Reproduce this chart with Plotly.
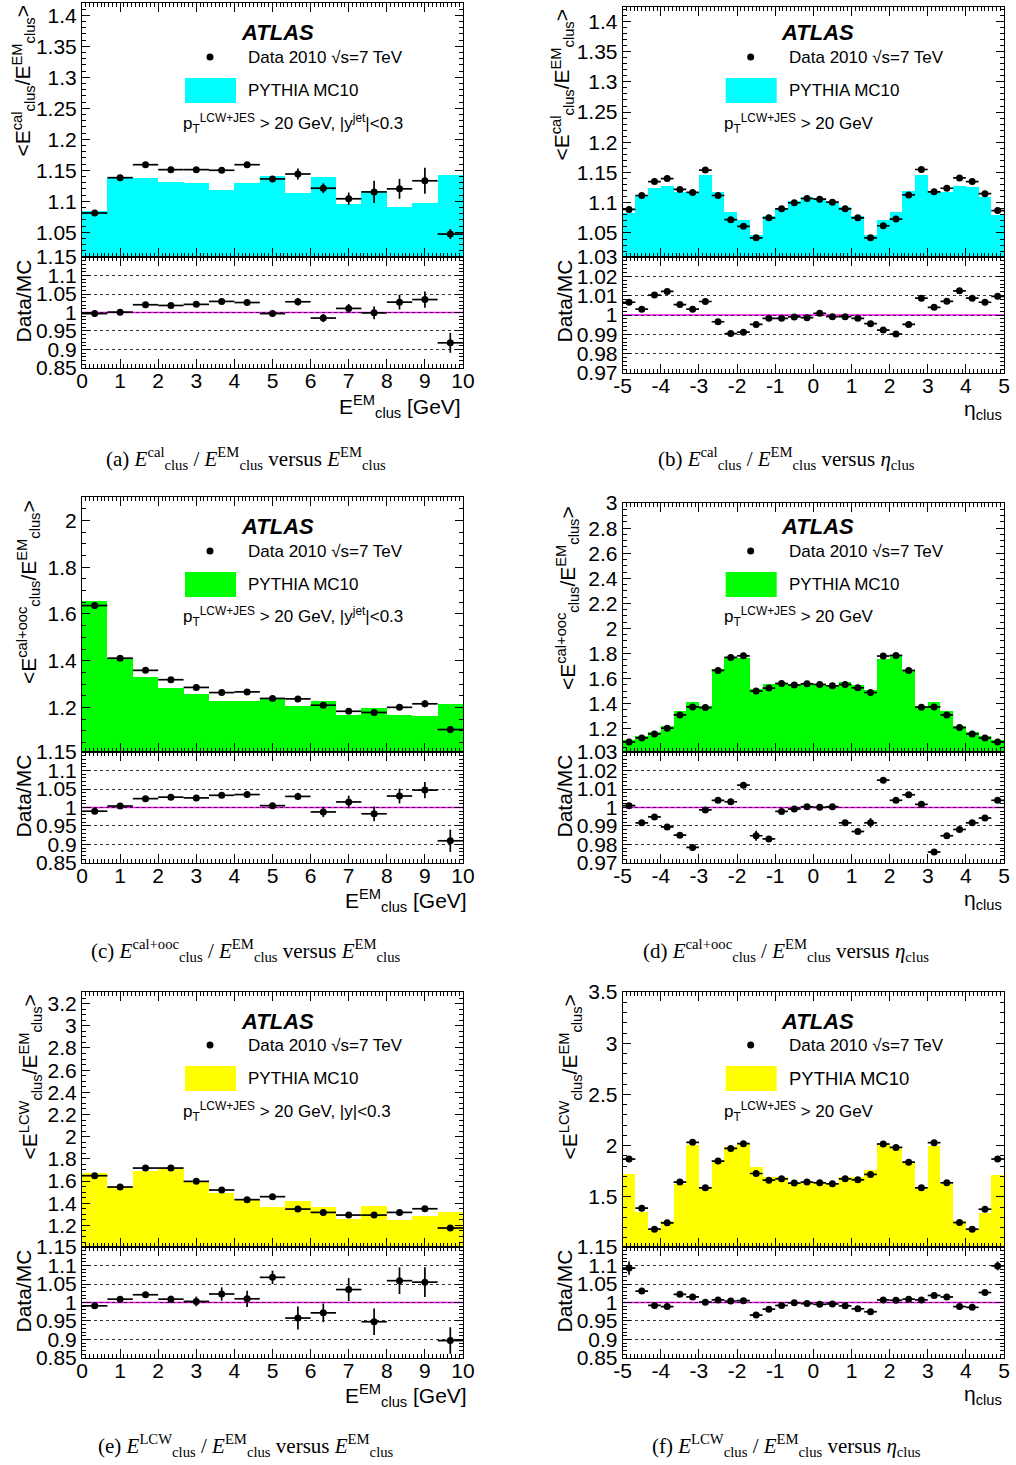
import numpy as np
import plotly.graph_objects as go

W, H = 1016, 1465

# ---------------- binning ----------------
E_EDGES = np.linspace(0.0, 10.0, 16)      # 15 bins in E_clus^EM [GeV]
ETA_EDGES = np.linspace(-5.0, 5.0, 31)    # 30 bins in eta_clus

# ---------------- (a) E^cal/E^EM vs E^EM ----------------
a_mc = [1.084, 1.138, 1.138, 1.131, 1.130, 1.118, 1.130, 1.141, 1.114, 1.139, 1.095, 1.117, 1.090, 1.097, 1.142]
a_data = [1.081, 1.138, 1.159, 1.151, 1.151, 1.150, 1.159, 1.136, 1.144, 1.121, 1.104, 1.115, 1.120, 1.133, 1.047]
a_data_err = [0.002, 0.002, 0.002, 0.002, 0.002, 0.002, 0.003, 0.004, 0.009, 0.008, 0.010, 0.018, 0.016, 0.021, 0.008]
a_ratio = [0.997, 1.001, 1.021, 1.019, 1.022, 1.030, 1.027, 0.997, 1.029, 0.985, 1.011, 0.999, 1.028, 1.035, 0.918]
a_ratio_err = [0.002, 0.002, 0.002, 0.002, 0.002, 0.003, 0.003, 0.005, 0.010, 0.011, 0.012, 0.017, 0.020, 0.022, 0.027]

# ---------------- (b) E^cal/E^EM vs eta ----------------
b_mc = [1.083, 1.111, 1.125, 1.128, 1.118, 1.117, 1.146, 1.117, 1.084, 1.071, 1.047, 1.078, 1.092, 1.103, 1.110,
        1.108, 1.102, 1.093, 1.078, 1.047, 1.071, 1.085, 1.119, 1.146, 1.120, 1.117, 1.128, 1.126, 1.109, 1.079]
b_data = [1.089, 1.112, 1.135, 1.140, 1.122, 1.117, 1.154, 1.112, 1.072, 1.061, 1.042, 1.075, 1.090, 1.100, 1.107,
          1.106, 1.101, 1.090, 1.075, 1.042, 1.062, 1.073, 1.113, 1.155, 1.118, 1.124, 1.141, 1.135, 1.115, 1.087]
b_data_err = [0.001] * 30
b_ratio = [1.0066, 1.0030, 1.0103, 1.0122, 1.0054, 1.0030, 1.0070, 0.9965, 0.9904, 0.9911, 0.9951, 0.9983, 0.9983, 0.9990, 0.9986,
           1.0009, 0.9991, 0.9991, 0.9983, 0.9955, 0.9922, 0.9901, 0.9951, 1.0087, 1.0040, 1.0071, 1.0125, 1.0087, 1.0066, 1.0097]
b_ratio_err = [0.0004] * 30

# ---------------- (c) E^cal+ooc/E^EM vs E^EM ----------------
c_mc = [1.656, 1.410, 1.330, 1.284, 1.257, 1.229, 1.229, 1.239, 1.206, 1.227, 1.170, 1.200, 1.170, 1.164, 1.217]
c_data = [1.636, 1.411, 1.359, 1.319, 1.286, 1.264, 1.267, 1.239, 1.237, 1.210, 1.184, 1.179, 1.201, 1.216, 1.106]
c_data_err = [0.003, 0.003, 0.003, 0.003, 0.003, 0.003, 0.003, 0.004, 0.005, 0.006, 0.007, 0.012, 0.008, 0.015, 0.008]
c_ratio = [0.990, 1.004, 1.024, 1.028, 1.026, 1.033, 1.035, 1.005, 1.030, 0.988, 1.015, 0.983, 1.031, 1.047, 0.910]
c_ratio_err = [0.003, 0.003, 0.003, 0.003, 0.003, 0.003, 0.003, 0.005, 0.010, 0.014, 0.017, 0.020, 0.020, 0.022, 0.030]

# ---------------- (d) E^cal+ooc/E^EM vs eta ----------------
d_mc = [1.112, 1.139, 1.171, 1.224, 1.341, 1.411, 1.379, 1.672, 1.768, 1.765, 1.517, 1.555, 1.565, 1.557, 1.560,
        1.557, 1.549, 1.571, 1.549, 1.507, 1.757, 1.784, 1.659, 1.379, 1.411, 1.341, 1.221, 1.176, 1.141, 1.112]
d_data = [1.093, 1.125, 1.157, 1.203, 1.309, 1.373, 1.368, 1.664, 1.768, 1.781, 1.499, 1.523, 1.560, 1.547, 1.557,
          1.552, 1.541, 1.552, 1.525, 1.488, 1.779, 1.784, 1.664, 1.371, 1.373, 1.309, 1.208, 1.157, 1.125, 1.093]
d_data_err = [0.002] * 30
d_ratio = [1.0010, 0.9917, 0.9949, 0.9895, 0.9850, 0.9784, 0.9987, 1.0039, 1.0031, 1.0121, 0.9847, 0.9830, 0.9979, 0.9992, 1.0004,
           1.0001, 1.0004, 0.9917, 0.9870, 0.9917, 1.0148, 1.0039, 1.0069, 1.0017, 0.9759, 0.9847, 0.9881, 0.9917, 0.9943, 1.0039]
d_ratio_err = [0.0004, 0.0004, 0.0004, 0.0004, 0.0004, 0.0004, 0.0004, 0.0004, 0.0004, 0.0004, 0.0027, 0.0004, 0.0004, 0.0004, 0.0004,
               0.0004, 0.0004, 0.0004, 0.0004, 0.0025, 0.0004, 0.0004, 0.0004, 0.0004, 0.0004, 0.0004, 0.0004, 0.0004, 0.0004, 0.0004]

# ---------------- (e) E^LCW/E^EM vs E^EM ----------------
e_mc = [1.669, 1.546, 1.690, 1.711, 1.591, 1.495, 1.432, 1.368, 1.417, 1.362, 1.257, 1.371, 1.248, 1.284, 1.317]
e_data = [1.648, 1.546, 1.717, 1.717, 1.597, 1.519, 1.432, 1.459, 1.347, 1.317, 1.293, 1.293, 1.317, 1.350, 1.176]
e_data_err = [0.004, 0.004, 0.004, 0.004, 0.005, 0.006, 0.006, 0.007, 0.008, 0.009, 0.010, 0.012, 0.014, 0.015, 0.012]
e_ratio = [0.991, 1.009, 1.021, 1.009, 1.003, 1.023, 1.010, 1.068, 0.958, 0.972, 1.035, 0.948, 1.059, 1.055, 0.897]
e_ratio_err = [0.003, 0.003, 0.004, 0.009, 0.013, 0.018, 0.022, 0.018, 0.031, 0.025, 0.031, 0.036, 0.036, 0.040, 0.036]

# ---------------- (f) E^LCW/E^EM vs eta ----------------
f_mc = [1.719, 1.353, 1.190, 1.265, 1.621, 2.006, 1.595, 1.843, 1.986, 2.019, 1.787, 1.696, 1.689, 1.634, 1.647,
        1.647, 1.640, 1.693, 1.696, 1.761, 2.012, 1.980, 1.836, 1.588, 1.996, 1.621, 1.265, 1.190, 1.347, 1.712]
f_data = [1.869, 1.389, 1.184, 1.246, 1.644, 2.032, 1.588, 1.849, 1.973, 2.019, 1.728, 1.663, 1.676, 1.634, 1.644,
          1.637, 1.627, 1.676, 1.666, 1.719, 2.016, 1.983, 1.839, 1.588, 2.029, 1.637, 1.249, 1.184, 1.379, 1.869]
f_data_err = [0.004] * 30
f_ratio = [1.093, 1.031, 0.992, 0.989, 1.022, 1.015, 1.001, 1.007, 1.004, 1.005, 0.966, 0.982, 0.992, 0.999, 0.997,
           0.995, 0.996, 0.991, 0.983, 0.975, 1.007, 1.006, 1.009, 1.007, 1.019, 1.015, 0.989, 0.987, 1.027, 1.099]
f_ratio_err = [0.018, 0.003, 0.003, 0.003, 0.003, 0.003, 0.003, 0.003, 0.003, 0.003, 0.003, 0.003, 0.003, 0.003, 0.003,
               0.003, 0.003, 0.003, 0.003, 0.003, 0.003, 0.003, 0.003, 0.003, 0.003, 0.003, 0.003, 0.003, 0.003, 0.012]

# ---------------- text ----------------
Y_TITLE_CAL = "&lt;E<sup>cal</sup><sub>clus</sub>/E<sup>EM</sup><sub>clus</sub>&gt;"
Y_TITLE_OOC = "&lt;E<sup>cal+ooc</sup><sub>clus</sub>/E<sup>EM</sup><sub>clus</sub>&gt;"
Y_TITLE_LCW = "&lt;E<sup>LCW</sup><sub>clus</sub>/E<sup>EM</sup><sub>clus</sub>&gt;"
CUT_E = "p<sub>T</sub><sup>LCW+JES</sup> &gt; 20 GeV, |y<sup>jet</sup>|&lt;0.3"
CUT_E2 = "p<sub>T</sub><sup>LCW+JES</sup> &gt; 20 GeV, |y|&lt;0.3"
CUT_ETA = "p<sub>T</sub><sup>LCW+JES</sup> &gt; 20 GeV"
X_TITLE_E = "E<sup>EM</sup><sub>clus</sub> [GeV]"
X_TITLE_ETA = "η<sub>clus</sub>"
CAPTIONS = [
    "(a) <i>E</i><sup>cal</sup><sub>clus</sub> / <i>E</i><sup>EM</sup><sub>clus</sub> versus <i>E</i><sup>EM</sup><sub>clus</sub>",
    "(b) <i>E</i><sup>cal</sup><sub>clus</sub> / <i>E</i><sup>EM</sup><sub>clus</sub> versus <i>η</i><sub>clus</sub>",
    "(c) <i>E</i><sup>cal+ooc</sup><sub>clus</sub> / <i>E</i><sup>EM</sup><sub>clus</sub> versus <i>E</i><sup>EM</sup><sub>clus</sub>",
    "(d) <i>E</i><sup>cal+ooc</sup><sub>clus</sub> / <i>E</i><sup>EM</sup><sub>clus</sub> versus <i>η</i><sub>clus</sub>",
    "(e) <i>E</i><sup>LCW</sup><sub>clus</sub> / <i>E</i><sup>EM</sup><sub>clus</sub> versus <i>E</i><sup>EM</sup><sub>clus</sub>",
    "(f) <i>E</i><sup>LCW</sup><sub>clus</sub> / <i>E</i><sup>EM</sup><sub>clus</sub> versus <i>η</i><sub>clus</sub>",
]

SANS = "Liberation Sans, Arial, Helvetica, sans-serif"
SERIF = "Liberation Serif, Times New Roman, serif"

# ---------------- panel layout (pixels) ----------------
COLS = [(82.0, 463.0), (622.7, 1004.0)]
panels = [
    dict(col=0, row=0, top=3, mid=257, bot=368, edges=E_EDGES, mc=a_mc, data=a_data, derr=a_data_err,
         ratio=a_ratio, rerr=a_ratio_err, color="#00FFFF", yr=[1.01, 1.42], ydt=0.05, ymn=0.01,
         rr=[0.8499, 1.1501], rdt=0.05, rmn=0.01, ytitle=Y_TITLE_CAL, cut=CUT_E, xt=X_TITLE_E, xt_x=463, xt_y=406, yt_x=23, pfs=17),
    dict(col=1, row=0, top=7, mid=257, bot=373, edges=ETA_EDGES, mc=b_mc, data=b_data, derr=b_data_err,
         ratio=b_ratio, rerr=b_ratio_err, color="#00FFFF", yr=[1.0103, 1.4237], ydt=0.05, ymn=0.01,
         rr=[0.96995, 1.03005], rdt=0.01, rmn=0.002, ytitle=Y_TITLE_CAL, cut=CUT_ETA, xt=X_TITLE_ETA, xt_x=1004, xt_y=410, yt_x=562, pfs=17),
    dict(col=0, row=1, top=497, mid=752, bot=863, edges=E_EDGES, mc=c_mc, data=c_data, derr=c_data_err,
         ratio=c_ratio, rerr=c_ratio_err, color="#00FF00", yr=[1.01, 2.1], ydt=0.2, ymn=0.05,
         rr=[0.8499, 1.1501], rdt=0.05, rmn=0.01, ytitle=Y_TITLE_OOC, cut=CUT_E, xt=X_TITLE_E, xt_x=469, xt_y=900, yt_x=28, pfs=17),
    dict(col=1, row=1, top=503, mid=752, bot=863, edges=ETA_EDGES, mc=d_mc, data=d_data, derr=d_data_err,
         ratio=d_ratio, rerr=d_ratio_err, color="#00FF00", yr=[1.013, 3.0008], ydt=0.2, ymn=0.05,
         rr=[0.96995, 1.03005], rdt=0.01, rmn=0.002, ytitle=Y_TITLE_OOC, cut=CUT_ETA, xt=X_TITLE_ETA, xt_x=1004, xt_y=900, yt_x=567, pfs=17),
    dict(col=0, row=2, top=992, mid=1247, bot=1358, edges=E_EDGES, mc=e_mc, data=e_data, derr=e_data_err,
         ratio=e_ratio, rerr=e_ratio_err, color="#FFFF00", yr=[1.005, 3.305], ydt=0.2, ymn=0.05,
         rr=[0.8499, 1.1501], rdt=0.05, rmn=0.01, ytitle=Y_TITLE_LCW, cut=CUT_E2, xt=X_TITLE_E, xt_x=469, xt_y=1395, yt_x=30, pfs=17),
    dict(col=1, row=2, top=992, mid=1247, bot=1358, edges=ETA_EDGES, mc=f_mc, data=f_data, derr=f_data_err,
         ratio=f_ratio, rerr=f_ratio_err, color="#FFFF00", yr=[1.01, 3.5008], ydt=0.5, ymn=0.1,
         rr=[0.8499, 1.1501], rdt=0.05, rmn=0.01, ytitle=Y_TITLE_LCW, cut=CUT_ETA, xt=X_TITLE_ETA, xt_x=1004, xt_y=1395, yt_x=570, pfs=18.5),
]
ROW_DY = [0, 494, 988]
CAPTION_Y = [458, 950, 1445]
CAPTION_X = [246, 786]
RATIO_TITLE_X = [23, 564]


def pxx(p):
    return p / W


def pxy(p):
    return 1.0 - p / H


fig = go.Figure()
layout = dict(
    width=W, height=H, autosize=False,
    margin=dict(l=0, r=0, t=0, b=0, pad=0, autoexpand=False),
    paper_bgcolor="white", plot_bgcolor="white", showlegend=False,
    font=dict(family=SANS, size=21, color="black"),
)
annotations = []
shapes = []

TICKFONT = dict(family=SANS, size=21, color="black")


def ax_name(n, kind):
    return kind + "axis" if n == 1 else f"{kind}axis{n}"


def ax_ref(n, kind):
    return kind if n == 1 else f"{kind}{n}"


for i, p in enumerate(panels):
    nm, nr = 2 * i + 1, 2 * i + 2
    edges = p["edges"]
    centers = 0.5 * (edges[:-1] + edges[1:])
    bw = float(edges[1] - edges[0])
    left, right = COLS[p["col"]]
    xdom = [pxx(left), pxx(right)]
    xr = [float(edges[0]), float(edges[-1])]

    tv = np.arange(edges[0], edges[-1] + 0.5, 1.0)
    tt = [str(int(round(v))) for v in tv]

    common_x = dict(
        domain=xdom, range=xr, tickmode="array", tickvals=list(tv), ticktext=tt,
        ticks="inside", ticklen=9, tickwidth=1, tickcolor="black",
        minor=dict(dtick=0.1, tick0=0, ticks="inside", ticklen=4, tickwidth=1, tickcolor="black"),
        showline=True, linecolor="black", linewidth=1, mirror="allticks",
        showgrid=False, zeroline=False, tickfont=TICKFONT, fixedrange=True, automargin=False,
    )
    layout[ax_name(nm, "x")] = dict(common_x, anchor=ax_ref(nm, "y"), showticklabels=False, matches=ax_ref(nr, "x"))
    layout[ax_name(nr, "x")] = dict(common_x, anchor=ax_ref(nr, "y"), showticklabels=True, ticklabelstandoff=-6)

    common_y = dict(
        tickmode="linear", tick0=0, ticks="inside", ticklen=8, tickwidth=1, tickcolor="black",
        showline=True, linecolor="black", linewidth=1, mirror="allticks",
        zeroline=False, tickfont=TICKFONT, fixedrange=True, automargin=False,
    )
    layout[ax_name(nm, "y")] = dict(
        common_y, domain=[pxy(p["mid"]), pxy(p["top"])], anchor=ax_ref(nm, "x"),
        range=p["yr"], dtick=p["ydt"], showgrid=False,
        minor=dict(dtick=p["ymn"], tick0=0, ticks="inside", ticklen=4, tickwidth=1, tickcolor="black"),
    )
    layout[ax_name(nr, "y")] = dict(
        common_y, domain=[pxy(p["bot"]), pxy(p["mid"])], anchor=ax_ref(nr, "x"),
        range=p["rr"], dtick=p["rdt"], showgrid=True, gridcolor="black", griddash="dot", gridwidth=0.8,
        minor=dict(dtick=p["rmn"], tick0=0, ticks="inside", ticklen=4, tickwidth=1, tickcolor="black"),
    )

    # MC histogram
    fig.add_trace(go.Bar(
        x=centers, y=p["mc"], width=bw, marker=dict(color=p["color"], line=dict(width=0)),
        xaxis=ax_ref(nm, "x"), yaxis=ax_ref(nm, "y"), hoverinfo="skip",
    ))
    # data points
    fig.add_trace(go.Scatter(
        x=centers, y=p["data"], mode="markers",
        marker=dict(color="black", size=7, symbol="circle"),
        error_y=dict(type="data", array=p["derr"], color="black", thickness=1.7, width=0),
        error_x=dict(type="constant", value=bw / 2, color="black", thickness=1.7, width=0),
        xaxis=ax_ref(nm, "x"), yaxis=ax_ref(nm, "y"), cliponaxis=True,
    ))
    # ratio points
    fig.add_trace(go.Scatter(
        x=centers, y=p["ratio"], mode="markers",
        marker=dict(color="black", size=7, symbol="circle"),
        error_y=dict(type="data", array=p["rerr"], color="black", thickness=1.7, width=0),
        error_x=dict(type="constant", value=bw / 2, color="black", thickness=1.7, width=0),
        xaxis=ax_ref(nr, "x"), yaxis=ax_ref(nr, "y"), cliponaxis=True,
    ))
    # unity line
    shapes.append(dict(
        type="line", xref=f"{ax_ref(nr, 'x')} domain", yref=ax_ref(nr, "y"),
        x0=0, x1=1, y0=1, y1=1, line=dict(color="#FF00FF", width=1.6), layer="below",
    ))

    # legend block
    dx = 0.0 if p["col"] == 0 else 540.7
    dy = ROW_DY[p["row"]]
    annotations.append(dict(
        text="<b><i>ATLAS</i></b>", x=pxx(277 + dx), y=pxy(33 + dy), xref="paper", yref="paper",
        xanchor="center", yanchor="middle", showarrow=False, font=dict(family=SANS, size=22, color="black"),
    ))
    shapes.append(dict(
        type="circle", xref="paper", yref="paper", xsizemode="pixel", ysizemode="pixel",
        xanchor=pxx(210 + dx), yanchor=pxy(57 + dy), x0=-3.5, x1=3.5, y0=-3.5, y1=3.5,
        fillcolor="black", line=dict(width=0),
    ))
    annotations.append(dict(
        text="Data 2010 √s=7 TeV", x=pxx(246 + dx), y=pxy(57 + dy), xref="paper", yref="paper",
        xanchor="left", yanchor="middle", showarrow=False, font=dict(family=SANS, size=17, color="black"),
    ))
    shapes.append(dict(
        type="rect", xref="paper", yref="paper", x0=pxx(185 + dx), x1=pxx(236 + dx),
        y0=pxy(103 + dy), y1=pxy(78 + dy), fillcolor=p["color"], line=dict(width=0),
    ))
    annotations.append(dict(
        text="PYTHIA MC10", x=pxx(246 + dx), y=pxy(90 + dy), xref="paper", yref="paper",
        xanchor="left", yanchor="middle", showarrow=False, font=dict(family=SANS, size=p["pfs"], color="black"),
    ))
    annotations.append(dict(
        text=p["cut"], x=pxx(181 + dx), y=pxy(123 + dy), xref="paper", yref="paper",
        xanchor="left", yanchor="middle", showarrow=False, font=dict(family=SANS, size=17, color="black"),
    ))

    # axis titles
    annotations.append(dict(
        text=p["ytitle"], x=pxx(p["yt_x"]), y=pxy(p["top"] + 1), xref="paper", yref="paper",
        xanchor="center", yanchor="top", textangle=-90, showarrow=False,
        font=dict(family=SANS, size=21, color="black"),
    ))
    annotations.append(dict(
        text="Data/MC", x=pxx(RATIO_TITLE_X[p["col"]]), y=pxy(p["mid"] + 1), xref="paper", yref="paper",
        xanchor="center", yanchor="top", textangle=-90, showarrow=False,
        font=dict(family=SANS, size=21, color="black"),
    ))
    annotations.append(dict(
        text=p["xt"], x=pxx(p["xt_x"]), y=pxy(p["xt_y"]), xref="paper", yref="paper",
        xanchor="right", yanchor="middle", showarrow=False,
        font=dict(family=SANS, size=21, color="black"),
    ))

    # caption
    annotations.append(dict(
        text=CAPTIONS[i], x=pxx(CAPTION_X[p["col"]]), y=pxy(CAPTION_Y[p["row"]]), xref="paper", yref="paper",
        xanchor="center", yanchor="middle", showarrow=False,
        font=dict(family=SERIF, size=21, color="black"),
    ))

layout["annotations"] = annotations
layout["shapes"] = shapes
layout["bargap"] = 0
fig.update_layout(**layout)

fig.write_html(
    "out.html",
    config={"displayModeBar": False, "staticPlot": True},
    post_script="document.documentElement.style.margin='0';document.body.style.margin='0';"
                "document.body.style.padding='0';document.body.style.overflow='hidden';",
)
